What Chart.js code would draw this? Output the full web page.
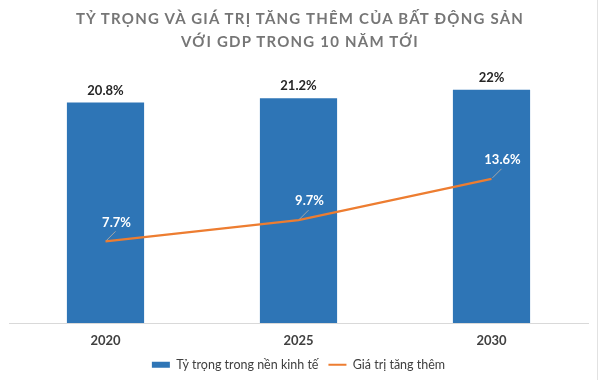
<!DOCTYPE html>
<html>
<head>
<meta charset="utf-8">
<script src="https://cdn.jsdelivr.net/npm/chart.js@4"></script>
<style>
  html, body { margin: 0; padding: 0; background: #fff; }
  #wrap { position: relative; width: 600px; height: 380px; overflow: hidden; }
  #title { position: absolute; left: 0; top: 7px; width: 600px; text-align: center;
           font-family: Lato, "Open Sans", sans-serif; font-weight: bold; font-size: 15px;
           letter-spacing: 1.23px; line-height: 23px; color: #767676; }
  #edge { position: absolute; left: 597px; top: 0; width: 1px; height: 380px; background: #e2e2e2; }
  canvas { position: absolute; left: 0; top: 0; }
</style>
</head>
<body>
<div id="wrap">
  <canvas id="c" width="600" height="380"></canvas>
  <div id="title">TỶ TRỌNG VÀ GIÁ TRỊ TĂNG THÊM CỦA BẤT ĐỘNG SẢN<br>VỚI GDP TRONG 10 NĂM TỚI</div>
  <div id="edge"></div>
</div>
<script>
const categories = ['2020', '2025', '2030'];
const shareOfEconomy = [20.8, 21.2, 22];
const addedValue = [7.7, 9.7, 13.6];
const seriesNames = ['Tỷ trọng trong nền kinh tế', 'Giá trị tăng thêm'];

const BLUE = '#2E75B6';
const ORANGE = '#ED7D31';
const FONT = 'Lato, "Open Sans", sans-serif';

function fmt(v) { return String(v) + '%'; }

const labelPlugin = {
  id: 'valueLabels',
  afterDatasetsDraw(chart) {
    const ctx = chart.ctx;
    ctx.save();
    ctx.textAlign = 'center';
    ctx.textBaseline = 'middle';
    ctx.font = 'bold 13px ' + FONT;
    const barMeta = chart.getDatasetMeta(0);
    barMeta.data.forEach((el, i) => {
      ctx.fillStyle = '#262626';
      ctx.fillText(fmt(shareOfEconomy[i]), el.x, el.y - 12);
    });
    const lineMeta = chart.getDatasetMeta(1);
    lineMeta.data.forEach((el, i) => {
      ctx.strokeStyle = '#A6A6A6';
      ctx.lineWidth = 1;
      ctx.beginPath();
      ctx.moveTo(el.x + 1, el.y - 1);
      ctx.lineTo(el.x + 10, el.y - 10);
      ctx.stroke();
      ctx.fillStyle = '#FFFFFF';
      ctx.fillText(fmt(addedValue[i]), el.x + 11, el.y - 19);
    });
    ctx.restore();
  }
};

new Chart(document.getElementById('c'), {
  data: {
    labels: categories,
    datasets: [
      {
        type: 'bar',
        label: seriesNames[0],
        data: shareOfEconomy,
        backgroundColor: BLUE,
        borderWidth: 0,
        categoryPercentage: 0.8,
        barPercentage: 0.5,
        order: 2
      },
      {
        type: 'line',
        label: seriesNames[1],
        data: addedValue,
        borderColor: ORANGE,
        backgroundColor: ORANGE,
        borderWidth: 2.25,
        pointRadius: 0,
        tension: 0,
        order: 1
      }
    ]
  },
  plugins: [labelPlugin],
  options: {
    responsive: false,
    animation: false,
    layout: { padding: { top: 58, left: 9, right: 12, bottom: -1.0 } },
    scales: {
      x: {
        grid: { display: false, drawTicks: false },
        border: { display: true, color: '#D9D9D9', width: 1 },
        ticks: { padding: 10, color: '#404040', font: { family: FONT, size: 13, weight: 'bold' } },
        afterFit(scale) { scale.height = 25.5; }
      },
      y: { display: false, min: 0, max: 25 }
    },
    plugins: {
      title: { display: false },
      tooltip: { enabled: false },
      legend: {
        position: 'bottom',
        labels: {
          color: '#404040',
          font: { family: FONT, size: 12.5 },
          usePointStyle: true,
          pointStyleWidth: 18,
          boxHeight: 6,
          padding: 10,
          generateLabels(chart) {
            return [
              { text: seriesNames[0], fillStyle: BLUE, strokeStyle: BLUE, lineWidth: 0, pointStyle: 'rect', datasetIndex: 0, fontColor: '#404040' },
              { text: seriesNames[1], fillStyle: ORANGE, strokeStyle: ORANGE, lineWidth: 2, pointStyle: 'line', datasetIndex: 1, fontColor: '#404040' }
            ];
          }
        }
      }
    }
  }
});
</script>
</body>
</html>
